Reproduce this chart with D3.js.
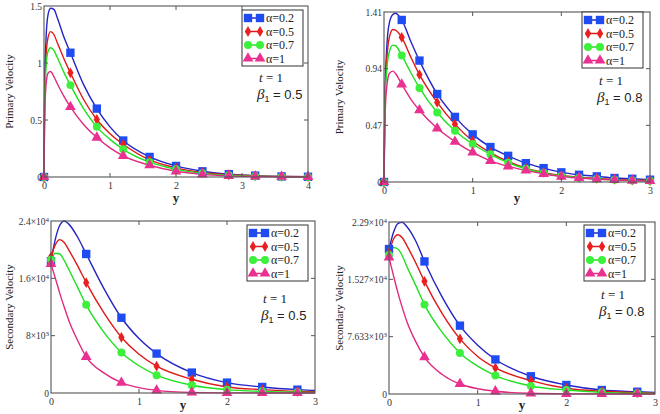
<!DOCTYPE html>
<html><head><meta charset="utf-8">
<script src="https://cdn.jsdelivr.net/npm/d3@7"></script>
<style>body{margin:0;background:#fff}svg{display:block}</style>
</head><body>
<svg id="c" width="660" height="414"></svg>
<script>
// ---------- DATA ----------
const seriesNames = ["α=0.2","α=0.5","α=0.7","α=1"];

// Panel 1: Primary velocity, beta1 = 0.5
const p1X = [0,0.01,0.03,0.06,0.1,0.15,0.2,0.3,0.4,0.6,0.8,1.0,1.2,1.6,2.0,2.4,2.8,3.2,3.6,4.0];
const p1A02 = [0,0.8,1.2,1.42,1.48,1.47,1.40,1.23,1.09,0.81,0.6,0.44,0.32,0.176,0.097,0.05,0.025,0.012,0.005,0.002];
const p1A05 = [0,0.7,1.05,1.22,1.275,1.25,1.18,1.04,0.914,0.68,0.504,0.38,0.287,0.15,0.08,0.04,0.02,0.01,0.005,0.002];
const p1A07 = [0,0.65,0.95,1.1,1.134,1.11,1.05,0.92,0.806,0.6,0.44,0.33,0.243,0.13,0.067,0.032,0.015,0.007,0.003,0.001];
const p1A1  = [0,0.55,0.8,0.91,0.925,0.88,0.82,0.71,0.615,0.46,0.346,0.255,0.185,0.103,0.05,0.023,0.01,0.005,0.002,0.001];
const p1MX = [0,0.4,0.8,1.2,1.6,2.0,2.4,2.8,3.2,3.6,4.0];
const p1MA02 = [0,1.09,0.6,0.32,0.176,0.097,0.05,0.025,0.012,0.005,0.002];
const p1MA05 = [0,0.914,0.504,0.287,0.15,0.08,0.04,0.02,0.01,0.005,0.002];
const p1MA07 = [0,0.806,0.44,0.243,0.13,0.067,0.032,0.015,0.007,0.003,0.001];
const p1MA1  = [0,0.615,0.346,0.185,0.103,0.05,0.023,0.01,0.005,0.002,0.001];
const p1XTicks = [0,1,2,3,4];
const p1YTicks = [0,0.5,1,1.5];
const p1YLabels = ["0","0.5","1","1.5"];

// Panel 2: Primary velocity, beta1 = 0.8
const p2X = [0,0.01,0.03,0.06,0.1,0.13,0.2,0.3,0.4,0.6,0.8,1.0,1.2,1.4,1.6,1.8,2.0,2.2,2.4,2.6,2.8,3.0];
const p2A02 = [0,0.7,1.1,1.32,1.39,1.40,1.344,1.17,1.007,0.73,0.54,0.395,0.29,0.217,0.156,0.115,0.08,0.06,0.047,0.033,0.027,0.019];
const p2A05 = [0,0.65,1.0,1.2,1.265,1.26,1.2,1.04,0.89,0.66,0.48,0.34,0.244,0.17,0.115,0.08,0.055,0.04,0.03,0.022,0.016,0.012];
const p2A07 = [0,0.6,0.92,1.08,1.135,1.13,1.05,0.91,0.78,0.576,0.425,0.315,0.23,0.16,0.11,0.075,0.05,0.035,0.025,0.018,0.013,0.01];
const p2A1  = [0,0.5,0.78,0.9,0.92,0.9,0.81,0.69,0.595,0.445,0.335,0.245,0.176,0.13,0.096,0.068,0.045,0.033,0.024,0.017,0.012,0.009];
const p2MX = [0,0.2,0.4,0.6,0.8,1.0,1.2,1.4,1.6,1.8,2.0,2.2,2.4,2.6,2.8,3.0];
const p2MA02 = [0,1.344,1.007,0.73,0.54,0.395,0.29,0.217,0.156,0.115,0.08,0.06,0.047,0.033,0.027,0.019];
const p2MA05 = [0,1.2,0.89,0.66,0.48,0.34,0.244,0.17,0.115,0.08,0.055,0.04,0.03,0.022,0.016,0.012];
const p2MA07 = [0,1.05,0.78,0.576,0.425,0.315,0.23,0.16,0.11,0.075,0.05,0.035,0.025,0.018,0.013,0.01];
const p2MA1  = [0,0.81,0.595,0.445,0.335,0.245,0.176,0.13,0.096,0.068,0.045,0.033,0.024,0.017,0.012,0.009];
const p2XTicks = [0,1,2,3];
const p2YTicks = [0,0.47,0.94,1.41];
const p2YLabels = ["0","0.47","0.94","1.41"];

// Panel 3: Secondary velocity (×10³), beta1 = 0.5
const p3X = [0,0.05,0.1,0.15,0.2,0.3,0.4,0.6,0.8,1.0,1.2,1.6,2.0,2.4,2.8,3.0];
const p3A02 = [18.4,21.5,23.4,24.0,23.6,21.8,19.4,14.6,10.5,7.6,5.5,2.85,1.45,0.84,0.47,0.35];
const p3A05 = [19.0,20.7,21.4,21.0,20.0,17.8,15.4,11.2,7.77,5.4,3.74,1.92,0.84,0.47,0.23,0.17];
const p3A07 = [18.6,19.5,19.4,18.5,17.3,14.8,12.3,8.5,5.66,3.8,2.48,1.08,0.47,0.23,0.1,0.07];
const p3A1  = [18.0,16.0,13.9,12.0,10.2,7.4,5.05,2.8,1.45,0.75,0.37,0.09,0.02,0.01,0,0];
const p3MX = [0,0.4,0.8,1.2,1.6,2.0,2.4,2.8];
const p3MA02 = [18.4,19.4,10.5,5.5,2.85,1.45,0.84,0.47];
const p3MA05 = [19.0,15.4,7.77,3.74,1.92,0.84,0.47,0.23];
const p3MA07 = [18.6,12.3,5.66,2.48,1.08,0.47,0.23,0.1];
const p3MA1  = [18.0,5.05,1.45,0.37,0.09,0.02,0.01,0];
const p3XTicks = [0,1,2,3];
const p3YTicks = [0,8,16,24];
const p3YLabels = [["0",""],["8×10","3"],["1.6×10","4"],["2.4×10","4"]];

// Panel 4: Secondary velocity (×10³), beta1 = 0.8
const p4X = [0,0.05,0.1,0.15,0.2,0.3,0.4,0.6,0.8,1.0,1.2,1.6,2.0,2.4,2.8,3.0];
const p4A02 = [19.3,21.5,22.7,22.85,22.3,20.4,17.65,12.9,9.1,6.5,4.6,2.36,1.2,0.53,0.3,0.2];
const p4A05 = [18.8,20.6,21.2,20.8,19.8,17.5,15.0,10.7,7.34,5.0,3.47,1.78,0.76,0.36,0.18,0.12];
const p4A07 = [18.5,19.5,19.3,18.4,17.0,14.5,11.9,8.2,5.47,3.7,2.45,1.07,0.53,0.22,0.1,0.07];
const p4A1  = [18.2,15.8,13.5,11.5,9.7,7.0,4.9,2.6,1.33,0.7,0.36,0.09,0.02,0.01,0,0];
const p4MX = [0,0.4,0.8,1.2,1.6,2.0,2.4,2.8];
const p4MA02 = [19.3,17.65,9.1,4.6,2.36,1.2,0.53,0.3];
const p4MA05 = [18.8,15.0,7.34,3.47,1.78,0.76,0.36,0.18];
const p4MA07 = [18.5,11.9,5.47,2.45,1.07,0.53,0.22,0.1];
const p4MA1  = [18.2,4.9,1.33,0.36,0.09,0.02,0.01,0];
const p4XTicks = [0,1,2,3];
const p4YTicks = [0,7.633,15.267,22.9];
const p4YLabels = [["0",""],["7.633×10","3"],["1.527×10","4"],["2.29×10","4"]];

// ---------- STYLE / LAYOUT ----------
const lineColors = ["#2424c4","#e01818","#1ee01e","#e02a80"];
const markColors = ["#1f4cf2","#ea2020","#3cf03c","#ea3090"];
const symTypes = [d3.symbolSquare, d3.symbolDiamond, d3.symbolCircle, d3.symbolTriangle];
const symSizes = [70, 34, 50, 50];
const FONT = "'Liberation Serif','Times New Roman',serif";

const panels = [
  {box:[44,6,308,177], xd:[0,4], yd:[0,1.5], x:p1X, ys:[p1A02,p1A05,p1A07,p1A1], mx:p1MX, mys:[p1MA02,p1MA05,p1MA07,p1MA1],
   xt:p1XTicks, yt:p1YTicks, yl:p1YLabels, ytitle:"Primary Velocity", titleX:9, beta:"0.5", leg:[242,10], txt:[259,82], yTitleY:202},
  {box:[384,12,650,182], xd:[0,3], yd:[0,1.41], x:p2X, ys:[p2A02,p2A05,p2A07,p2A1], mx:p2MX, mys:[p2MA02,p2MA05,p2MA07,p2MA1],
   xt:p2XTicks, yt:p2YTicks, yl:p2YLabels, ytitle:"Primary Velocity", titleX:339, beta:"0.8", leg:[582,12], txt:[599,85], yTitleY:202},
  {box:[51,221,315,393], xd:[0,3], yd:[0,24], x:p3X, ys:[p3A02,p3A05,p3A07,p3A1], mx:p3MX, mys:[p3MA02,p3MA05,p3MA07,p3MA1],
   xt:p3XTicks, yt:p3YTicks, yl:p3YLabels, ytitle:"Secondary Velocity", titleX:9, beta:"0.5", leg:[247,225], txt:[263,303], yTitleY:409},
  {box:[389,222,655,394], xd:[0,3], yd:[0,22.9], x:p4X, ys:[p4A02,p4A05,p4A07,p4A1], mx:p4MX, mys:[p4MA02,p4MA05,p4MA07,p4MA1],
   xt:p4XTicks, yt:p4YTicks, yl:p4YLabels, ytitle:"Secondary Velocity", titleX:339, beta:"0.8", leg:[584,225], txt:[601,299], yTitleY:409}
];

const svg = d3.select("#c");

panels.forEach(p => {
  const [L,T,R,B] = p.box;
  const xs = d3.scaleLinear().domain(p.xd).range([L,R]);
  const ys = d3.scaleLinear().domain(p.yd).range([B,T]);
  const g = svg.append("g");

  const line = d3.line().x(d=>xs(d[0])).y(d=>ys(d[1])).curve(d3.curveMonotoneX);
  p.ys.forEach((arr,i) => {
    g.append("path").datum(p.x.map((v,j)=>[v,arr[j]]))
      .attr("d",line).attr("fill","none").attr("stroke",lineColors[i]).attr("stroke-width",1.4);
  });
  p.mys.forEach((arr,i) => {
    g.selectAll(null).data(p.mx.map((v,j)=>[v,arr[j]])).enter().append("path")
      .attr("d", d3.symbol().type(symTypes[i]).size(symSizes[i]))
      .attr("transform", d=>`translate(${xs(d[0])},${ys(d[1])})`)
      .attr("fill", markColors[i]);
  });

  g.append("rect").attr("x",L).attr("y",T).attr("width",R-L).attr("height",B-T)
    .attr("fill","none").attr("stroke","#555").attr("stroke-width",1.1);
  const xa = d3.axisBottom(xs).tickValues(p.xt).tickSize(0).tickPadding(5).tickFormat(d3.format("d"));
  const xg = g.append("g").attr("transform",`translate(0,${B})`).call(xa);
  xg.select(".domain").remove();
  xg.selectAll("text").attr("font-family",FONT).attr("font-size",10).attr("fill","#333");
  const ya = d3.axisLeft(ys).tickValues(p.yt).tickSize(0).tickPadding(3).tickFormat("");
  const yg = g.append("g").attr("transform",`translate(${L},0)`).call(ya);
  yg.select(".domain").remove();
  yg.selectAll(".tick").each(function(d,i){
    const lab = p.yl[i];
    const t = d3.select(this).append("text").attr("x",-2).attr("dy", i===p.yt.length-1 ? "0.4em" : "0.32em")
      .attr("text-anchor","end").attr("font-family",FONT).attr("font-size",9.5).attr("fill","#333");
    if (Array.isArray(lab)) {
      t.append("tspan").text(lab[0]);
      if (lab[1]) t.append("tspan").attr("dy","-0.45em").attr("font-size",7).text(lab[1]);
    } else t.text(lab);
  });
  p.xt.slice(1,-1).forEach(v=>{
    g.append("line").attr("x1",xs(v)).attr("x2",xs(v)).attr("y1",T).attr("y2",T+4).attr("stroke","#555");
    g.append("line").attr("x1",xs(v)).attr("x2",xs(v)).attr("y1",B).attr("y2",B-4).attr("stroke","#555");
  });
  p.yt.slice(1,-1).forEach(v=>{
    g.append("line").attr("x1",R).attr("x2",R-4).attr("y1",ys(v)).attr("y2",ys(v)).attr("stroke","#555");
    g.append("line").attr("x1",L).attr("x2",L+4).attr("y1",ys(v)).attr("y2",ys(v)).attr("stroke","#555");
  });

  g.append("text").attr("transform",`translate(${p.titleX},${(T+B)/2}) rotate(-90)`)
    .attr("text-anchor","middle").attr("dy","0.35em").attr("font-family",FONT).attr("font-size",11).attr("fill","#222")
    .text(p.ytitle);
  g.append("text").attr("x",(L+R)/2).attr("y",p.yTitleY).attr("text-anchor","middle")
    .attr("font-family",FONT).attr("font-size",13).attr("font-weight","bold").attr("fill","#222").text("y");

  const [lx,ly] = p.leg;
  const lg = g.append("g");
  lg.append("rect").attr("x",lx).attr("y",ly).attr("width",61).attr("height",56)
    .attr("fill","#fff").attr("stroke","#333").attr("stroke-width",1);
  seriesNames.forEach((n,i)=>{
    const yy = ly+8+i*13.5;
    lg.append("line").attr("x1",lx+3).attr("x2",lx+21).attr("y1",yy).attr("y2",yy)
      .attr("stroke",lineColors[i]).attr("stroke-width",1.5);
    [lx+6,lx+18].forEach(xx=>{
      lg.append("path").attr("d",d3.symbol().type(symTypes[i]).size(symSizes[i]))
        .attr("transform",`translate(${xx},${yy})`).attr("fill",markColors[i]);
    });
    lg.append("text").attr("x",lx+24).attr("y",yy).attr("dy","0.35em")
      .attr("font-family",FONT).attr("font-size",12).attr("fill","#222").text(n);
  });

  const [tx,ty] = p.txt;
  const t1 = g.append("text").attr("x",tx).attr("y",ty).attr("font-family",FONT).attr("font-size",13).attr("fill","#222");
  t1.append("tspan").attr("font-style","italic").text("t");
  t1.append("tspan").text(" = 1");
  const t2 = g.append("text").attr("x",tx-2).attr("y",ty+17).attr("font-family","'Liberation Sans',Arial,sans-serif").attr("font-size",13).attr("fill","#222");
  t2.append("tspan").attr("font-style","italic").attr("font-family",FONT).attr("font-size",15).text("β");
  t2.append("tspan").attr("dy","3").attr("font-size",9).text("1");
  t2.append("tspan").attr("dy","-3").text(" = " + p.beta);
});
</script>
</body></html>
